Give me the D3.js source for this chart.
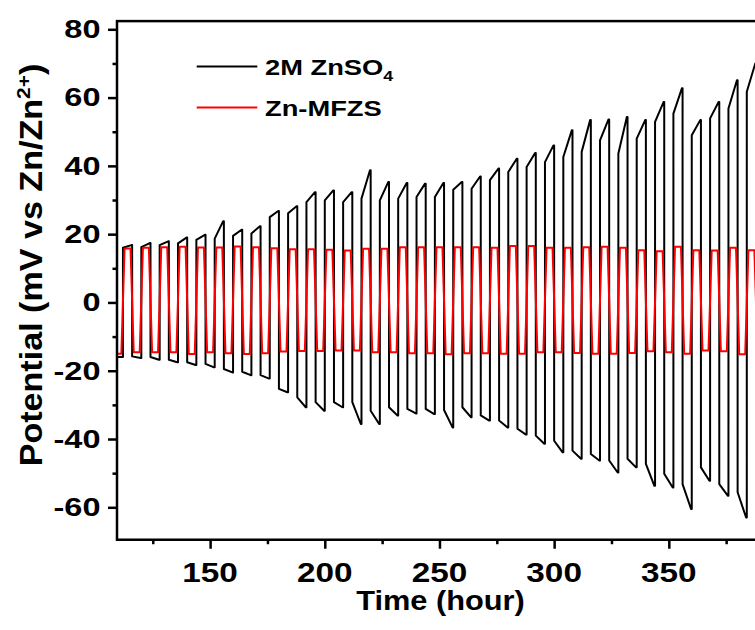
<!DOCTYPE html>
<html><head><meta charset="utf-8">
<script src="https://cdn.jsdelivr.net/npm/d3@7/dist/d3.min.js"></script>
<style>
body{margin:0;background:#fff}
svg text{font-family:"Liberation Sans",Arial,Helvetica,sans-serif;font-weight:bold;fill:#000}
</style>
</head><body>
<svg id="chart" width="755" height="630"></svg>
<script>
// ---- data ----
const cycleStart = [112,120,128,136,144,152,160,168,176,184,192,200,208,216,224,232,240,248,256,264,272,280,288,296,304,312,320,328,336,344,352,360,368,376,384];
// 2M ZnSO4 (black): start and end value of each positive plateau, then of the following negative plateau
const znso4Initial = -16.0;
const znso4HighStart = [16.0,16.2,16.8,17.3,18.3,18.7,19.5,20.2,25.0,26.1,29.4,29.9,29.4,30.4,29.9,30.4,30.9,30.9,33.0,33.3,35.8,38.2,39.7,41.1,42.6,44.1,47.5,43.6,48.0,52.9,55.3,49.0,53.9,56.8,61.7];
const znso4HighEnd   = [16.8,17.4,17.9,19.0,19.8,23.8,21.3,22.3,26.8,28.2,32.3,32.8,32.3,38.7,35.3,35.0,34.8,35.0,35.3,36.9,39.2,42.1,43.8,46.0,50.4,53.4,53.6,54.3,53.4,58.7,62.7,53.4,58.7,65.1,70.0];
const znso4LowStart  = [-15.8,-16.0,-16.8,-17.5,-18.0,-19.5,-20.3,-21.3,-25.3,-27.8,-29.2,-29.2,-29.2,-31.7,-30.7,-31.2,-31.2,-31.5,-30.7,-33.1,-34.6,-37.0,-39.0,-40.5,-43.4,-44.4,-46.3,-45.8,-47.3,-50.2,-53.2,-48.3,-53.2,-55.6];
const znso4LowEnd    = [-16.3,-16.8,-17.5,-18.3,-19.0,-20.5,-21.3,-22.3,-26.3,-30.7,-31.7,-30.7,-35.6,-35.6,-33.1,-32.5,-32.7,-36.6,-33.6,-34.6,-36.6,-38.7,-41.4,-43.9,-45.8,-46.3,-49.8,-48.3,-53.7,-54.2,-60.5,-52.2,-56.6,-63.0];
// Zn-MFZS (red): plateau value of each positive and negative half cycle
const mfzsInitial = -15.0;
const mfzsHigh = [15.8,16.0,16.2,16.3,16.1,16.1,16.4,16.2,15.9,15.6,15.6,15.4,15.2,15.7,15.7,16.2,16.2,16.2,16.2,16.2,16.0,16.5,16.5,16.0,16.0,16.2,16.3,16.0,15.3,15.0,16.3,15.3,15.2,16.0,15.3];
const mfzsLow  = [-14.6,-14.6,-14.6,-15.1,-14.6,-14.9,-15.1,-14.9,-14.4,-14.2,-14.2,-14.1,-14.1,-14.6,-14.6,-14.9,-14.9,-15.2,-14.9,-14.9,-15.0,-15.0,-14.6,-14.6,-14.8,-15.0,-15.0,-14.8,-14.3,-14.6,-15.0,-14.1,-14.3,-15.2,-14.6];

const xMajorTicks = [150,200,250,300,350];
const xMinorTicks = [125,175,225,275,325,375];
const yMajorTicks = [-60,-40,-20,0,20,40,60,80];
const yMinorTicks = [-50,-30,-10,10,30,50,70];
const xDomain = [109.4, 400];
const yDomain = [-69.5, 82.4];
const seriesNames = ["2M ZnSO", "Zn-MFZS"];

// ---- layout ----
const svg = d3.select("#chart");
const x = d3.scaleLinear().domain(xDomain).range([117, 117 + (xDomain[1]-xDomain[0]) * 2.2935]);
const y = d3.scaleLinear().domain([-60, 80]).range([507.3, 29.3]);
const pLeft = x(xDomain[0]), pRight = x(xDomain[1]);
const pTop = y(yDomain[1]), pBottom = y(yDomain[0]);

svg.append("defs").append("clipPath").attr("id","plotclip")
  .append("rect").attr("x", pLeft).attr("y", pTop).attr("width", pRight-pLeft).attr("height", pBottom-pTop);

// ---- build waveforms ----
const blackPts = [[xDomain[0], znso4Initial], [cycleStart[0], znso4Initial]];
cycleStart.forEach((t, k) => {
  blackPts.push([t, znso4HighStart[k]], [t + 3.7, znso4HighEnd[k]], [t + 4, znso4HighEnd[k]]);
  if (k < znso4LowStart.length) {
    blackPts.push([t + 4, znso4LowStart[k]], [t + 7.7, znso4LowEnd[k]], [t + 8, znso4LowEnd[k]]);
  }
});
const redPts = [[xDomain[0], mfzsInitial], [cycleStart[0] - 0.7, mfzsInitial]];
cycleStart.forEach((t, k) => {
  redPts.push([t + 0.7, mfzsHigh[k]], [t + 3.3, mfzsHigh[k]]);
  if (k < mfzsLow.length) redPts.push([t + 4.7, mfzsLow[k]], [t + 7.3, mfzsLow[k]]);
});

const line = d3.line().x(d => x(d[0])).y(d => y(d[1]));
const plot = svg.append("g").attr("clip-path", "url(#plotclip)");
plot.append("path").datum(blackPts).attr("d", line)
  .attr("fill","none").attr("stroke","#000").attr("stroke-width",2).attr("stroke-linejoin","round");
plot.append("path").datum(redPts).attr("d", line)
  .attr("fill","none").attr("stroke","#ff0000").attr("stroke-width",2).attr("stroke-linejoin","round");

// ---- axes ----
function styleAxis(g){ g.select(".domain").remove(); g.selectAll("line").attr("stroke","#000").attr("stroke-width",2.5); g.selectAll("text").remove(); }
svg.append("g").attr("transform",`translate(0,${pBottom})`)
  .call(d3.axisBottom(x).tickValues(xMajorTicks).tickSize(9).tickSizeOuter(0)).call(styleAxis);
svg.append("g").attr("transform",`translate(0,${pBottom})`)
  .call(d3.axisBottom(x).tickValues(xMinorTicks).tickSize(4.5).tickSizeOuter(0)).call(styleAxis);
svg.append("g").attr("transform",`translate(${pLeft},0)`)
  .call(d3.axisLeft(y).tickValues(yMajorTicks).tickSize(9).tickSizeOuter(0)).call(styleAxis);
svg.append("g").attr("transform",`translate(${pLeft},0)`)
  .call(d3.axisLeft(y).tickValues(yMinorTicks).tickSize(4.5).tickSizeOuter(0)).call(styleAxis);

svg.append("rect").attr("x", pLeft).attr("y", pTop).attr("width", pRight-pLeft).attr("height", pBottom-pTop)
  .attr("fill","none").attr("stroke","#000").attr("stroke-width",2.5);

// stretched text helper (reference glyphs are wider than normal)
function label(px, py, str, size, sx, anchor, rot){
  const g = svg.append("g").attr("transform", `translate(${px},${py})` + (rot ? ` rotate(${rot})` : "") + ` scale(${sx},1)`);
  return g.append("text").attr("font-size", size).attr("text-anchor", anchor).text(str);
}
yMajorTicks.forEach(v => label(100.5, y(v) + 8.8, v, 25, 1.3, "end"));
xMajorTicks.forEach(v => label(x(v), 581.5, v, 28, 1.19, "middle"));
label(440.5, 610, "Time (hour)", 27, 1.14, "middle");

// y axis title
const yt = label(42, 265, "Potential (mV vs Zn/Zn", 31, 1.1, "middle", -90);
yt.append("tspan").attr("font-size", 19).attr("dy", -12).text("2+");
yt.append("tspan").attr("dy", 12).text(")");

// ---- legend ----
const legendColors = ["#000", "#ff0000"];
const legendY = [66.5, 107.5];
seriesNames.forEach((name, i) => {
  svg.append("line").attr("x1",196.7).attr("x2",257.3).attr("y1",legendY[i]).attr("y2",legendY[i])
    .attr("stroke",legendColors[i]).attr("stroke-width",2);
  const t = label(265, legendY[i] + 8.5, name, 21.5, 1.27, "start");
  if (i === 0) t.append("tspan").attr("font-size", 14).attr("dy", 6).text("4");
});
</script>
</body></html>
